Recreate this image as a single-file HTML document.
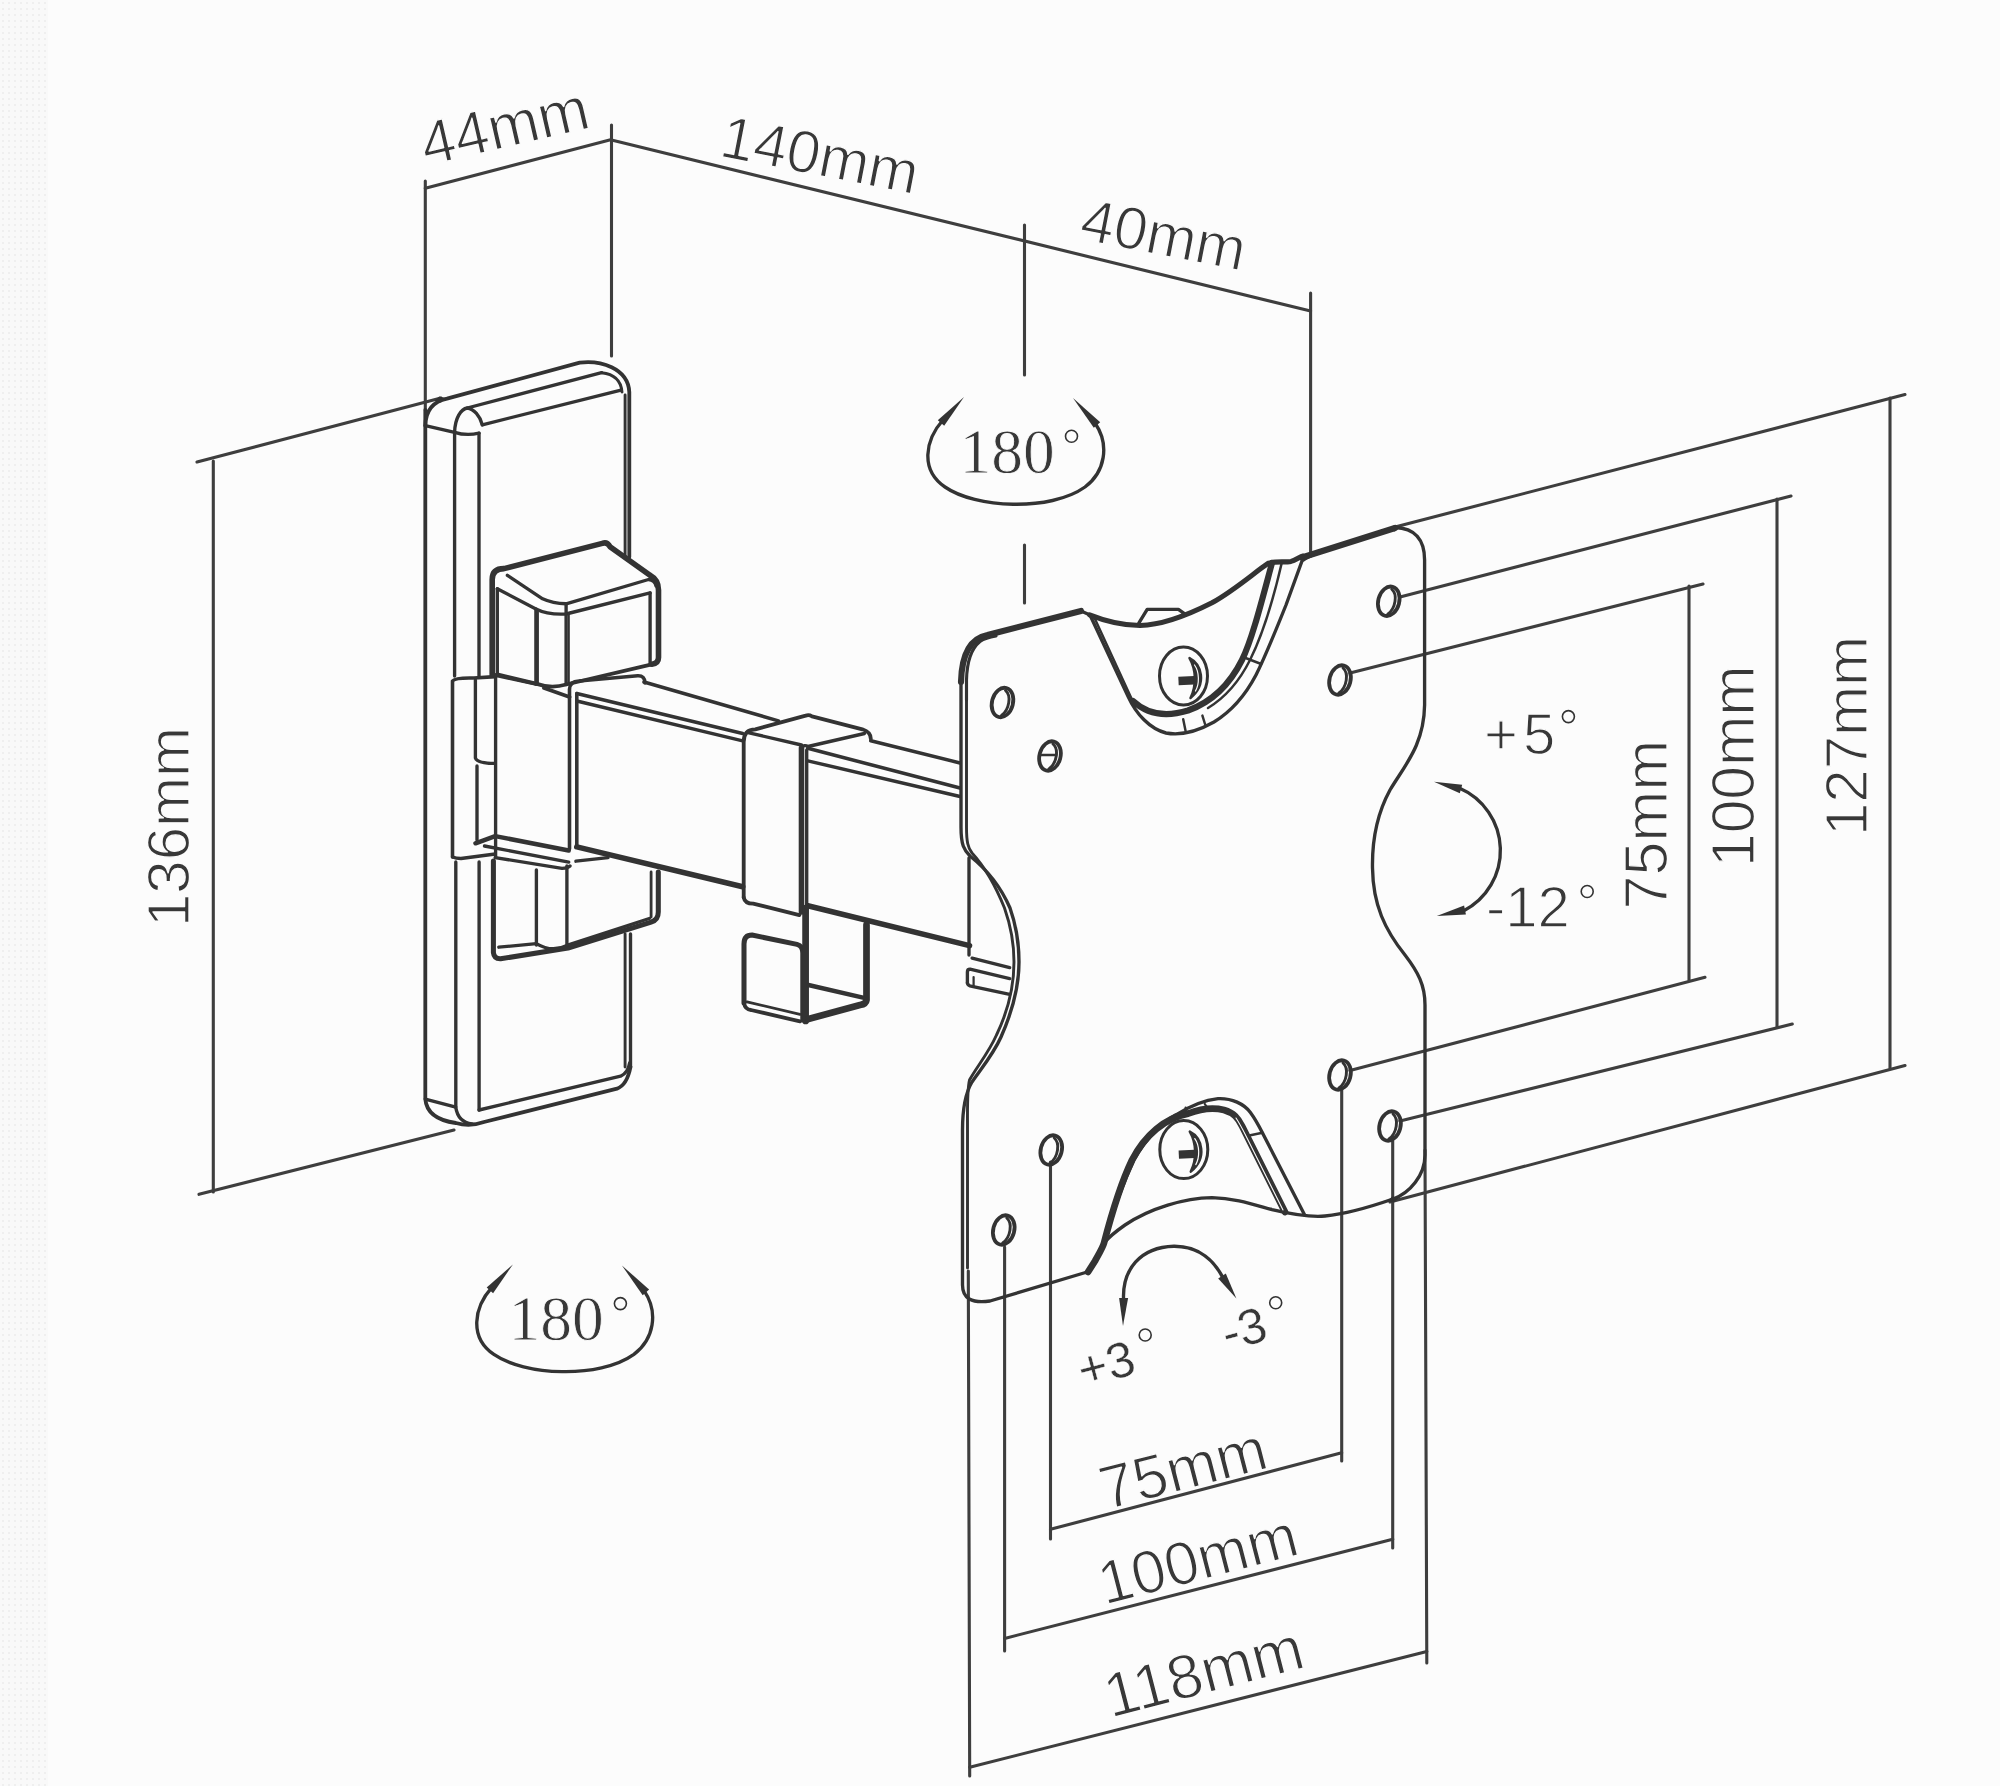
<!DOCTYPE html>
<html><head><meta charset="utf-8"><title>Wall mount diagram</title>
<style>
html,body{margin:0;padding:0;background:#fcfcfc;}
body{width:2000px;height:1786px;overflow:hidden;font-family:"Liberation Sans",sans-serif;}
svg{display:block;}
</style></head>
<body>
<svg width="2000" height="1786" viewBox="0 0 2000 1786">
<defs>
<pattern id="dots" width="6" height="6" patternUnits="userSpaceOnUse">
<rect width="6" height="6" fill="#f9f9f9"/><circle cx="3" cy="3" r="1" fill="#ececec"/>
</pattern>
</defs>
<rect x="0" y="0" width="2000" height="1786" fill="#fcfcfc"/>
<rect x="0" y="0" width="48" height="1786" fill="url(#dots)"/>
<g fill="none" stroke="#333333" stroke-linecap="round" stroke-linejoin="round">
<line x1="425.3" y1="181" x2="425.3" y2="410" stroke="#3e3e3e" stroke-width="3.1"/>
<line x1="611.5" y1="125" x2="611.5" y2="356" stroke="#3e3e3e" stroke-width="3.1"/>
<line x1="425.3" y1="188.3" x2="611.5" y2="139.6" stroke="#3e3e3e" stroke-width="3.1"/>
<line x1="611.5" y1="140" x2="1310.6" y2="311" stroke="#3e3e3e" stroke-width="3.1"/>
<line x1="1024.5" y1="225" x2="1024.5" y2="375" stroke="#3e3e3e" stroke-width="3.1"/>
<line x1="1024.5" y1="545" x2="1024.5" y2="603" stroke="#3e3e3e" stroke-width="3.1"/>
<line x1="1310.6" y1="293" x2="1310.6" y2="556" stroke="#3e3e3e" stroke-width="3.1"/>
<line x1="213.3" y1="461" x2="213.3" y2="1192" stroke="#3e3e3e" stroke-width="3.1"/>
<line x1="197" y1="462" x2="441" y2="398" stroke="#3e3e3e" stroke-width="3.1"/>
<line x1="199" y1="1194.3" x2="454" y2="1130" stroke="#3e3e3e" stroke-width="3.1"/>
<line x1="1890" y1="398" x2="1890" y2="1068" stroke="#3e3e3e" stroke-width="3.1"/>
<line x1="1395" y1="527" x2="1905" y2="394.6" stroke="#3e3e3e" stroke-width="3.1"/>
<line x1="1390" y1="1202" x2="1905" y2="1065.5" stroke="#3e3e3e" stroke-width="3.1"/>
<line x1="1777" y1="499" x2="1777" y2="1027" stroke="#3e3e3e" stroke-width="3.1"/>
<line x1="1400" y1="597" x2="1791" y2="496" stroke="#3e3e3e" stroke-width="3.1"/>
<line x1="1400" y1="1121" x2="1792.3" y2="1024" stroke="#3e3e3e" stroke-width="3.1"/>
<line x1="1689" y1="586" x2="1689" y2="980" stroke="#3e3e3e" stroke-width="3.1"/>
<line x1="1350" y1="673" x2="1703" y2="584" stroke="#3e3e3e" stroke-width="3.1"/>
<line x1="1350" y1="1070.5" x2="1705" y2="977.3" stroke="#3e3e3e" stroke-width="3.1"/>
<line x1="1050.5" y1="1162" x2="1050.5" y2="1539" stroke="#3e3e3e" stroke-width="3.1"/>
<line x1="1341.7" y1="1090" x2="1341.7" y2="1461" stroke="#3e3e3e" stroke-width="3.1"/>
<line x1="1050.5" y1="1529.3" x2="1341.7" y2="1452.8" stroke="#3e3e3e" stroke-width="3.1"/>
<line x1="1004.6" y1="1247" x2="1004.6" y2="1651" stroke="#3e3e3e" stroke-width="3.1"/>
<line x1="1392.7" y1="1137" x2="1392.7" y2="1548" stroke="#3e3e3e" stroke-width="3.1"/>
<line x1="1004.6" y1="1638.4" x2="1392.7" y2="1539.2" stroke="#3e3e3e" stroke-width="3.1"/>
<line x1="968.3" y1="1271" x2="969.7" y2="1776" stroke="#3e3e3e" stroke-width="3.1"/>
<line x1="1425" y1="1150" x2="1426.8" y2="1663" stroke="#3e3e3e" stroke-width="3.1"/>
<line x1="969.7" y1="1767.2" x2="1426.8" y2="1651.5" stroke="#3e3e3e" stroke-width="3.1"/>
<path d="M425.3,410 V1099 Q427,1119 455.8,1123 Q470,1127 484,1122 L617,1088.7 Q627,1085 630.5,1067" stroke-width="3.81" />
<path d="M425.3,425.6 Q426,403 447,398.7 L579.7,362.6 C600,360 628,368 629.3,392 V557" stroke-width="3.81" />
<path d="M625.1,395 V556" stroke-width="2.91" />
<path d="M601.6,372.7 C614,374 621,380 622,392" stroke-width="2.91" />
<path d="M467.2,408 L601.6,372.7" stroke-width="3.36" />
<path d="M482.3,424.8 L620,390.3" stroke-width="3.36" />
<path d="M425.3,425.6 L454.6,432.3" stroke-width="3.36" />
<path d="M454.6,676 V432.3 C455,418 461,409 467.2,408 C474,409 480,416 482.3,424.8" stroke-width="3.36" />
<path d="M454.6,432.3 Q466,436 479,433.2" stroke-width="3.36" />
<path d="M479,433.2 V676" stroke-width="3.36" />
<path d="M455.8,862 V1107.5 Q458,1122 472,1124" stroke-width="3.36" />
<path d="M425.3,1099 L455.8,1107" stroke-width="3.36" />
<path d="M479.1,862 V1110" stroke-width="3.36" />
<path d="M479.1,1110 L620.6,1076.2 Q628,1073 629.6,1063" stroke-width="3.36" />
<path d="M625.1,934 V1067" stroke-width="2.91" />
<path d="M630.5,934 V1067" stroke-width="3.36" />
<path d="M492.2,674.4 V579.5 Q492.2,568.6 504,568.6 L602.3,543.4 Q607,541.5 610,546.7 L650,575.3 Q658.5,580 658.5,590 V657.6 Q658.5,663.5 651.8,664.3" stroke-width="5.6" />
<path d="M507.4,575.3 L542.6,598.8 Q552.7,603.5 566.1,603.8 L648.5,579.5 Q655,580 656,586" stroke-width="3.36" />
<path d="M497.3,588.7 L535.9,608.9 Q548,615 566,614 L650.1,592.9" stroke-width="3.36" />
<path d="M497.3,588.7 V674.4" stroke-width="3.36" />
<path d="M535.9,609 V684" stroke-width="3.36" />
<path d="M537.8,612 V684" stroke-width="2.24" />
<path d="M566.1,604 V684.5" stroke-width="3.36" />
<path d="M568.7,614 V683" stroke-width="2.24" />
<path d="M650.1,593 V664.3" stroke-width="3.36" />
<path d="M497.3,674.4 L535.9,683.6 Q551,689 566.1,684.5 L651.8,664.3" stroke-width="3.81" />
<path d="M452.5,857 V681 Q455,677.5 474,678 L495.6,676.6" stroke-width="3.58" />
<path d="M475.4,680 V758 Q477,763.4 494.8,763.4" stroke-width="3.36" />
<path d="M477,766 V840" stroke-width="3.36" />
<path d="M495.6,676.6 V857" stroke-width="3.36" />
<path d="M492.2,674.4 L536,684 M544,688 L569.5,697" stroke-width="3.81" />
<path d="M569.5,849 V689.4 Q570,681 578.9,681 L637.7,675.8 Q645,675.5 645,683" stroke-width="3.58" />
<path d="M576.8,846.9 V693.6" stroke-width="3.58" />
<path d="M493.4,861 V952.6 Q494,959 500.6,958.8 L568,948 L651.1,922.1 Q658.3,920 658.3,912 V872" stroke-width="5.04" />
<path d="M651.1,872 V917" stroke-width="2.8" />
<path d="M498.8,947.2 L536.4,943.6 Q552,953 566.9,945.4 L649.3,918.5" stroke-width="3.36" />
<path d="M536.4,870 V945" stroke-width="3.36" />
<path d="M566.9,866 V945" stroke-width="3.36" />
<path d="M452.5,857 Q456,858.5 461,858.5 L495.2,854" stroke-width="3.36" />
<path d="M475.5,843.3 L495.2,836.1 L568.7,850.5" stroke-width="4.48" />
<path d="M484.5,846 L568.7,862.1" stroke-width="3.36" />
<path d="M495.2,857.6 L562,868.4 Q568,868 570,866" stroke-width="3.36" />
<path d="M575.9,861.2 L608,857.6" stroke-width="3.36" />
<path d="M644,682 L778.4,720.9" stroke-width="3.58" />
<path d="M576.8,693.6 L742.7,733.5" stroke-width="3.58" />
<path d="M576.8,701 L742.7,740.8" stroke-width="3.36" />
<path d="M576.8,846.9 L742.7,886.8" stroke-width="5.6" />
<path d="M870.8,740.8 L960,762.9" stroke-width="3.58" />
<path d="M807.8,748.2 L960,788.1" stroke-width="3.58" />
<path d="M807.8,760.8 L960,796.5" stroke-width="3.36" />
<path d="M807.8,905.7 L969.5,945.6" stroke-width="5.6" />
<path d="M743.7,897.3 V741.9 Q743.7,729.3 755.3,729.3 L805.7,715.6 Q809,714.5 812,716.3 L862.4,729.3 Q870.8,732 870.8,738.8" stroke-width="3.81" />
<path d="M746.9,732.4 L801.5,745" stroke-width="3.36" />
<path d="M801.5,748.2 Q804,744 808,746.5 L864.5,733.5" stroke-width="3.36" />
<path d="M801.5,748 V912" stroke-width="5.6" />
<path d="M806.7,750 V913" stroke-width="3.36" />
<path d="M743.7,897.3 Q744.8,903.6 753.2,903.6 L799.4,915.1" stroke-width="3.81" />
<path d="M744,1003 V944 Q744,935 752,935 L797,944.4 Q802.8,946 802.8,953 V1020" stroke-width="5.04" />
<path d="M744,1003 Q745,1009.5 751,1010 L800,1021.4" stroke-width="3.81" />
<path d="M747,1001.8 L800,1014.4" stroke-width="2.8" />
<path d="M805.6,908 V1021" stroke-width="6.72" />
<path d="M866.5,924.8 V1000 Q866,1004 860,1005 L808.4,1019" stroke-width="6.72" />
<path d="M808.4,985 L863,997.6" stroke-width="4.48" />
<path d="M961,827 V680 Q962,640 987.5,635 L1081,611 L1090,615 L1128,696.4 C1136,714 1150,729 1166,733 C1182,736 1198,731 1214,722 C1232,711 1246,694 1256,675 C1266,655 1276,630 1286,605 L1302,561 C1306,558 1312,555 1320,552.5 L1395,527.5 C1415,528 1424.6,540 1424.6,560 V705 C1424,745 1405,765 1390,790 C1378,812 1372,840 1372.5,868 C1373,905 1385,930 1405,955 C1418,972 1425,985 1425,1005 V1155 C1425,1175 1410,1193 1393,1199 C1370,1207 1345,1214 1325,1216 C1310,1217.5 1295,1215 1272,1209.6 C1255,1205 1235,1198 1212,1197.6 C1185,1198 1150,1208 1125,1225 C1115,1232 1108,1238 1104,1243 L1095.6,1260 L1087.2,1272 L990,1301 Q962.5,1305 962.5,1285 V1130 C962.5,1105 966,1092 972,1082 C980,1070 993,1055 1001,1037 C1013,1010 1019,985 1019,962 C1019,945 1016,925 1010,908 C1000,885 985,868 970,856 C964,850 961,845 961,827 Z" stroke-width="3.36" fill="none"/>
<path d="M961,682 Q962,640 987.5,635 L1081,611" stroke-width="6.16" />
<path d="M966.5,700 V680 C967,660 972,648 980,641.5 C985,638 990,637 996,636" stroke-width="3.14" />
<path d="M966.5,680 V827 C966.5,842 968,848 972,853 C983,865 994,882 1004.5,908 C1010.5,925 1014,945 1014,962 C1014,985 1008.5,1010 996.5,1035 C988.5,1053 976,1068 969.5,1080 C967,1090 967.5,1105 967.5,1130 V1268" stroke-width="2.91" />
<path d="M1089.6,614.8 C1100,619 1118,625 1140,625.6 C1165,625 1190,614 1212,602.8 C1235,590 1255,572 1268.4,563.2 C1275,561 1285,562.5 1291,561.4 C1296,560 1299,557 1303,556" stroke-width="5.04" />
<path d="M1272,563 C1262,600 1252,640 1242,660 C1230,684 1212,702 1188,710.5 C1170,716 1150,717 1133,701" stroke-width="6.16" />
<path d="M1281.6,563.5 C1272,605 1260,640 1250,660 C1240,680 1226,697 1208,708" stroke-width="2.46" />
<path d="M1094.4,617.8 L1131.6,698.8" stroke-width="2.46" />
<path d="M1138.8,623.2 L1147.2,609.4 L1178.4,609.4 L1184.4,613.6" stroke-width="3.36" />
<path d="M1178.4,617 L1183.5,613.5" stroke-width="2.24" />
<path d="M1245.6,658 L1261.2,664" stroke-width="2.46" />
<path d="M1183.2,719.2 L1185.6,731" stroke-width="2.46" />
<path d="M1202.4,715.6 L1205,724" stroke-width="2.46" />
<path d="M1302,557.5 L1395,528" stroke-width="6.16" />
<path d="M1087.2,1272 L1095.6,1260 C1100,1250 1104,1243 1105,1240 C1112,1215 1122,1185 1134,1160 C1145,1140 1160,1124 1176,1114.8 C1190,1106 1205,1100 1218,1098.6 C1232,1098 1244,1104 1250.4,1112.4 C1256,1120 1259,1126 1262,1132 L1304.4,1214.4" stroke-width="3.36" />
<path d="M1088,1272 L1095,1261 C1100,1252 1103,1247 1104,1243 C1110,1220 1120,1185 1132,1160 C1145,1135 1165,1118 1188,1113.6 C1200,1109 1212,1107 1224,1110 C1234,1113 1238,1118 1242,1126 L1285,1212" stroke-width="6.72" />
<path d="M1236,1118 C1240,1124 1243,1130 1246,1136 L1283,1210" stroke-width="1.1" stroke="#fcfcfc"/>
<path d="M1250.4,1135.2 L1262.4,1132.8" stroke-width="2.46" />
<path d="M1185.6,1107.6 L1186.8,1112.4" stroke-width="2.24" />
<path d="M1204.8,1104 L1207.2,1107.6" stroke-width="2.24" />
<ellipse cx="1183.5" cy="676" rx="24" ry="29" stroke-width="3" fill="none"/>
<path d="M1178.5,681 L1199.5,680" stroke-width="8.4" stroke-linecap="butt"/>
<path d="M1189.5,658 C1201.5,664 1207.5,684 1190.5,698 C1196.5,686 1196.5,670 1189.5,658 Z" fill="#333333" stroke="#333333" stroke-width="2.5"/>
<path d="M1194.5,665 C1199.5,672 1199.5,684 1195.5,691" stroke-width="1.2" stroke="#fcfcfc"/>
<ellipse cx="1183.8" cy="1149.6" rx="24" ry="29" stroke-width="3" fill="none"/>
<path d="M1178.8,1154.6 L1199.8,1153.6" stroke-width="8.4" stroke-linecap="butt"/>
<path d="M1189.8,1131.6 C1201.8,1137.6 1207.8,1157.6 1190.8,1171.6 C1196.8,1159.6 1196.8,1143.6 1189.8,1131.6 Z" fill="#333333" stroke="#333333" stroke-width="2.5"/>
<path d="M1194.8,1138.6 C1199.8,1145.6 1199.8,1157.6 1195.8,1164.6" stroke-width="1.2" stroke="#fcfcfc"/>
<ellipse cx="1002.5" cy="702.5" rx="10.5" ry="15" transform="rotate(15 1002.5 702.5)" stroke-width="3.8" fill="none"/>
<path d="M1005.5,690.5 C1011.5,695.5 1009.5,709.5 1001.5,715.5" stroke-width="2.91" />
<ellipse cx="1050" cy="756" rx="10.5" ry="15" transform="rotate(15 1050 756)" stroke-width="3.8" fill="none"/>
<path d="M1053,744 C1059,749 1057,763 1049,769" stroke-width="2.91" />
<ellipse cx="1388.75" cy="601.25" rx="10.5" ry="15" transform="rotate(15 1388.75 601.25)" stroke-width="3.8" fill="none"/>
<path d="M1391.75,589.25 C1397.75,594.25 1395.75,608.25 1387.75,614.25" stroke-width="2.91" />
<ellipse cx="1340" cy="680" rx="10.5" ry="15" transform="rotate(15 1340 680)" stroke-width="3.8" fill="none"/>
<path d="M1343,668 C1349,673 1347,687 1339,693" stroke-width="2.91" />
<ellipse cx="1051.25" cy="1150" rx="10.5" ry="15" transform="rotate(15 1051.25 1150)" stroke-width="3.8" fill="none"/>
<path d="M1054.25,1138 C1060.25,1143 1058.25,1157 1050.25,1163" stroke-width="2.91" />
<ellipse cx="1003.75" cy="1230" rx="10.5" ry="15" transform="rotate(15 1003.75 1230)" stroke-width="3.8" fill="none"/>
<path d="M1006.75,1218 C1012.75,1223 1010.75,1237 1002.75,1243" stroke-width="2.91" />
<ellipse cx="1340" cy="1075" rx="10.5" ry="15" transform="rotate(15 1340 1075)" stroke-width="3.8" fill="none"/>
<path d="M1343,1063 C1349,1068 1347,1082 1339,1088" stroke-width="2.91" />
<ellipse cx="1390" cy="1126" rx="10.5" ry="15" transform="rotate(15 1390 1126)" stroke-width="3.8" fill="none"/>
<path d="M1393,1114 C1399,1119 1397,1133 1389,1139" stroke-width="2.91" />
<path d="M1041,755 L1056,755" stroke-width="2.69" />
<path d="M969,858 V955" stroke-width="3.36" />
<path d="M972.1,958.2 L1009.7,967.6" stroke-width="3.36" />
<path d="M967.4,983 V972 Q967.4,969.2 970,969.2 L1009.7,978.6" stroke-width="3.36" />
<path d="M967.4,983 Q968,986 972,986.4 L1009.7,994.3" stroke-width="3.36" />
<path d="M973.6,977 V986.4" stroke-width="2.24" />
<path d="M445.8,397.9 L440.8,402.6 L434.2,401.1 L439.2,396.4 Z" fill="#333333" stroke="none"/>
<path d="M1399.8,526.9 L1394.8,531.6 L1388.2,530.1 L1393.2,525.4 Z" fill="#333333" stroke="none"/>
<path d="M1398.8,1197.9 L1393.8,1202.6 L1387.2,1201.1 L1392.2,1196.4 Z" fill="#333333" stroke="none"/>
<path d="M943,420 C925,440 920,470 945,487 C975,508 1050,512 1085,487 C1105,472 1110,445 1095,423" stroke-width="3.36" fill="none"/>
<path d="M964.0,397.0 L944.2,425.8 L937.8,420.2 Z" fill="#333333" stroke="none"/>
<path d="M1073.0,398.0 L1100.2,422.2 L1093.8,427.8 Z" fill="#333333" stroke="none"/>
<text x="959.5" y="472.8" font-size="63.5" font-family="'Liberation Serif', serif" fill="#383838" stroke="#fcfcfc" stroke-width="0.8">180</text>
<circle cx="1071.5" cy="436.2" r="6" stroke-width="1.6" fill="none"/>
<path d="M491.9,1287.4 C473.9,1307.4 468.9,1337.4 493.9,1354.4 C523.9,1375.4 598.9,1379.4 633.9,1354.4 C653.9,1339.4 658.9,1312.4 643.9,1290.4" stroke-width="3.36" fill="none"/>
<path d="M512.9,1264.4 L493.1,1293.2 L486.7,1287.6 Z" fill="#333333" stroke="none"/>
<path d="M621.9,1265.4 L649.1,1289.6 L642.7,1295.2 Z" fill="#333333" stroke="none"/>
<text x="508.4" y="1340.2" font-size="63.5" font-family="'Liberation Serif', serif" fill="#383838" stroke="#fcfcfc" stroke-width="0.8">180</text>
<circle cx="620.4" cy="1303.6" r="6" stroke-width="1.6" fill="none"/>
<path d="M1459.2,788 A68,68 0 0 1 1463.4,911" stroke-width="3.36" fill="none"/>
<path d="M1434.0,781.7 L1462.2,784.7 L1459.8,793.3 Z" fill="#333333" stroke="none"/>
<path d="M1436.8,916.0 L1464.1,905.6 L1465.9,914.4 Z" fill="#333333" stroke="none"/>
<path d="M1123.6,1300 C1122,1270 1140,1247 1174,1246.2 C1200,1246 1215,1262 1223,1278" stroke-width="3.36" fill="none"/>
<path d="M1123.0,1326.0 L1119.1,1297.9 L1128.1,1298.1 Z" fill="#333333" stroke="none"/>
<path d="M1236.4,1298.4 L1218.2,1278.4 L1225.8,1273.6 Z" fill="#333333" stroke="none"/>
<text x="426" y="166" font-size="61.5" font-family="'Liberation Sans', sans-serif" text-anchor="start" fill="#383838" stroke="#fcfcfc" stroke-width="1.3" transform="rotate(-13 426 166)" >44mm</text>
<text x="718" y="156" font-size="60" font-family="'Liberation Sans', sans-serif" text-anchor="start" fill="#383838" stroke="#fcfcfc" stroke-width="1.3" transform="rotate(11 718 156)" >140mm</text>
<text x="1078" y="239" font-size="60" font-family="'Liberation Sans', sans-serif" text-anchor="start" fill="#383838" stroke="#fcfcfc" stroke-width="1.3" transform="rotate(11 1078 239)" >40mm</text>
<text x="189.3" y="927" font-size="60" font-family="'Liberation Sans', sans-serif" text-anchor="start" fill="#383838" stroke="#fcfcfc" stroke-width="1.3" transform="rotate(-90 189.3 927)" >136mm</text>
<text x="1867" y="836" font-size="60" font-family="'Liberation Sans', sans-serif" text-anchor="start" fill="#383838" stroke="#fcfcfc" stroke-width="1.3" transform="rotate(-90 1867 836)" >127mm</text>
<text x="1754" y="867" font-size="60.5" font-family="'Liberation Sans', sans-serif" text-anchor="start" fill="#383838" stroke="#fcfcfc" stroke-width="1.3" transform="rotate(-90 1754 867)" >100mm</text>
<text x="1667" y="909.5" font-size="61" font-family="'Liberation Sans', sans-serif" text-anchor="start" fill="#383838" stroke="#fcfcfc" stroke-width="1.3" transform="rotate(-90 1667 909.5)" >75mm</text>
<text x="1106" y="1510" font-size="61.2" font-family="'Liberation Sans', sans-serif" text-anchor="start" fill="#383838" stroke="#fcfcfc" stroke-width="1.3" transform="rotate(-14.5 1106 1510)" >75mm</text>
<text x="1104.5" y="1605" font-size="61" font-family="'Liberation Sans', sans-serif" text-anchor="start" fill="#383838" stroke="#fcfcfc" stroke-width="1.3" transform="rotate(-14.5 1104.5 1605)" >100mm</text>
<text x="1110.5" y="1718" font-size="62.4" font-family="'Liberation Sans', sans-serif" text-anchor="start" fill="#383838" stroke="#fcfcfc" stroke-width="1.3" transform="rotate(-14.5 1110.5 1718)" >118mm</text>
<text x="1484" y="753.7" font-size="58" font-family="'Liberation Sans', sans-serif" text-anchor="start" fill="#383838" stroke="#fcfcfc" stroke-width="1.3" >+</text>
<text x="1523" y="753.7" font-size="58" font-family="'Liberation Sans', sans-serif" text-anchor="start" fill="#383838" stroke="#fcfcfc" stroke-width="1.3" >5</text>
<circle cx="1568.4" cy="716.6" r="6" stroke-width="1.6" fill="none"/>
<text x="1486" y="926.5" font-size="58" font-family="'Liberation Sans', sans-serif" text-anchor="start" fill="#383838" stroke="#fcfcfc" stroke-width="1.3" >-12</text>
<circle cx="1587.2" cy="891.5" r="6" stroke-width="1.6" fill="none"/>
<text x="1083" y="1388" font-size="50" font-family="'Liberation Sans', sans-serif" text-anchor="start" fill="#383838" stroke="#fcfcfc" stroke-width="0.4" transform="rotate(-15 1083 1388)" >+3</text>
<circle cx="1145.2" cy="1335" r="6" stroke-width="1.6" fill="none"/>
<text x="1227" y="1351" font-size="50" font-family="'Liberation Sans', sans-serif" text-anchor="start" fill="#383838" stroke="#fcfcfc" stroke-width="0.4" transform="rotate(-15 1227 1351)" >-3</text>
<circle cx="1275.7" cy="1302.7" r="6" stroke-width="1.6" fill="none"/>
</g>
</svg>
</body></html>
